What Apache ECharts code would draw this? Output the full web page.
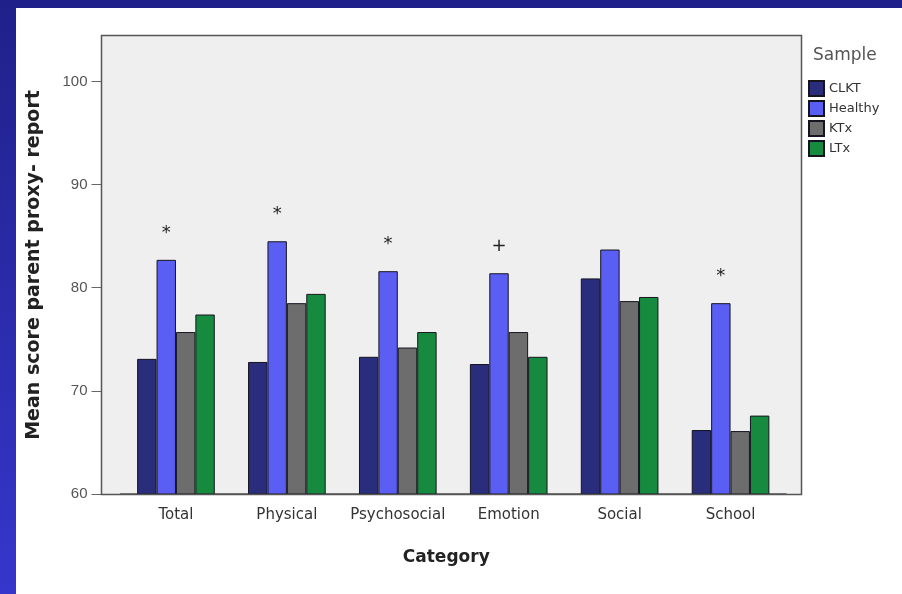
<!DOCTYPE html>
<html>
<head>
<meta charset="utf-8">
<script src="https://cdn.jsdelivr.net/npm/echarts@6/dist/echarts.min.js"></script>
<style>
  html, body { margin: 0; padding: 0; background: #fff; }
  #chart { position: absolute; left: 0; top: 0; width: 902px; height: 594px; }
  .strip-top { position: absolute; left: 0; top: 0; width: 902px; height: 8px; background: #20208a; }
  .strip-left { position: absolute; left: 0; top: 0; width: 16px; height: 594px; background: linear-gradient(#20208a, #3636cc); }
</style>
</head>
<body>
<div id="chart"></div>
<div class="strip-top"></div>
<div class="strip-left"></div>
<script>
const categories = ["Total", "Physical", "Psychosocial", "Emotion", "Social", "School"];
const clkt    = [73.1, 72.8, 73.3, 72.6, 80.9, 66.2];
const healthy = [82.7, 84.5, 81.6, 81.4, 83.7, 78.5];
const ktx     = [75.7, 78.5, 74.2, 75.7, 78.7, 66.1];
const ltx     = [77.4, 79.4, 75.7, 73.3, 79.1, 67.6];
// significance marks over the Healthy bars
const marks   = ["*", "*", "*", "+", "", "*"];
const yTicks  = [60, 70, 80, 90, 100];

const FONT = "DejaVu Sans";
const frame = { x: 101.5, y: 35.5, width: 700, height: 459 };

function barSeries(name, data, color, extra) {
  return Object.assign({
    name, type: "bar", data,
    barGap: "0%", barCategoryGap: "30%",
    itemStyle: { color, borderColor: "#151520", borderWidth: 1 }
  }, extra || {});
}

const chart = echarts.init(document.getElementById("chart"));
chart.setOption({
  animation: false,
  backgroundColor: "transparent",
  title: {
    text: "Sample", left: 813, top: 47, padding: 0,
    textStyle: { fontFamily: FONT, fontSize: 17, fontWeight: "normal", color: "#555" }
  },
  legend: {
    data: ["CLKT", "Healthy", "KTx", "LTx"],
    orient: "vertical", left: 808, top: 80, padding: 0,
    icon: "rect", itemWidth: 15, itemHeight: 15, itemGap: 3,
    textStyle: { fontFamily: FONT, fontSize: 13, color: "#333" }
  },
  grid: { left: 120.5, right: 116, top: 36, bottom: 100 },
  graphic: [
    { type: "rect", z: -10, silent: true, shape: frame, style: { fill: "#efefef" } },
    { type: "rect", z: 100, silent: true, shape: frame, style: { fill: "transparent", stroke: "#555", lineWidth: 1.5 } }
  ],
  xAxis: {
    type: "category", data: categories,
    name: "Category", nameLocation: "middle", nameGap: 55,
    nameTextStyle: { fontFamily: FONT, fontSize: 17, fontWeight: "bold", color: "#222", padding: [0, 14, 0, 0] },
    axisLine: { show: true, lineStyle: { color: "#555", width: 1.5 } },
    axisTick: { alignWithLabel: true, length: 10, lineStyle: { color: "#444" } },
    axisLabel: { interval: 0, margin: 14, fontFamily: FONT, fontSize: 15, color: "#333" }
  },
  yAxis: {
    type: "value", min: 60, max: 104.4, interval: 10, offset: 19,
    name: "Mean score parent proxy- report", nameLocation: "middle", nameRotate: 90, nameGap: 58,
    nameTextStyle: { fontFamily: FONT, fontSize: 19, fontWeight: "bold", color: "#222" },
    axisLine: { show: false },
    axisTick: { show: true, length: 10, customValues: yTicks, lineStyle: { color: "#666" } },
    axisLabel: { margin: 14, customValues: yTicks, fontFamily: "Liberation Sans", fontSize: 15, color: "#555" },
    splitLine: { show: false }
  },
  series: [
    barSeries("CLKT", clkt, "#2a2c7c"),
    barSeries("Healthy", healthy, "#5a5ef2", {
      label: {
        show: true, position: "top", distance: 18,
        formatter: (p) => marks[p.dataIndex],
        fontFamily: FONT, fontSize: 18, color: "#222"
      }
    }),
    barSeries("KTx", ktx, "#6d6d6d"),
    barSeries("LTx", ltx, "#168a3e")
  ]
});
</script>
</body>
</html>
